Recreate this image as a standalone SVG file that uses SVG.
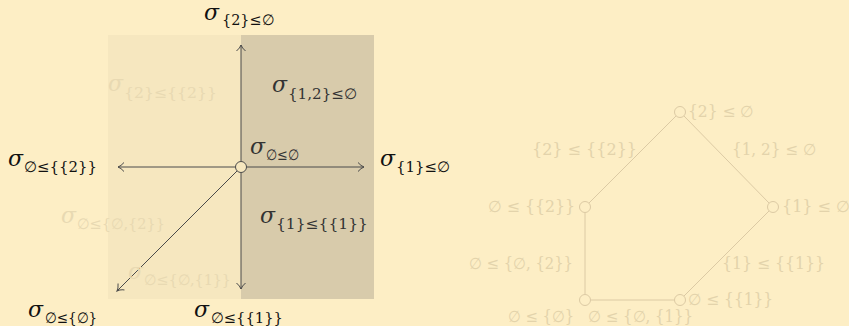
<svg xmlns="http://www.w3.org/2000/svg" width="849" height="326" viewBox="0 0 849 326">
<style>
.sig{font-family:"DejaVu Serif",serif;font-style:italic;font-size:22px}
.sub{font-family:"DejaVu Serif",serif;font-style:normal;font-size:15px}
.dk{fill:#111}
.md{fill:#333}
.ft{fill:#e8d9b2}
.rl{font-family:"DejaVu Serif",serif;font-size:16px;fill:#e3d3ab}
.ax{stroke:#4a4a4a;stroke-width:1;fill:none}
.rd{stroke:#dccaa4;stroke-width:1;fill:none}
.rn{stroke:#dccaa4;stroke-width:1;fill:#fdeec5}
</style>
<defs>
<marker id="arr" markerWidth="12" markerHeight="12" refX="10" refY="6" orient="auto" markerUnits="userSpaceOnUse">
<path d="M4 1.5 Q7 5 10 6 Q7 7 4 10.5" fill="none" stroke="#4a4a4a" stroke-width="1"/>
</marker>
</defs>
<rect x="0" y="0" width="849" height="326" fill="#fdeec5"/>
<rect x="108" y="35" width="133" height="264" fill="#f6e7bf"/>
<rect x="241" y="35" width="133" height="264" fill="#d8cbab"/>

<g id="connectors-left">
<line class="ax" x1="241" y1="161.5" x2="241" y2="45" marker-end="url(#arr)"/>
<line class="ax" x1="246.5" y1="167" x2="364" y2="167" marker-end="url(#arr)"/>
<line class="ax" x1="235.5" y1="167" x2="118" y2="167" marker-end="url(#arr)"/>
<line class="ax" x1="241" y1="172.5" x2="241" y2="289" marker-end="url(#arr)"/>
<line class="ax" x1="237" y1="171" x2="117" y2="291" marker-end="url(#arr)"/>
</g>
<g id="origin"><circle cx="241" cy="167" r="5.5" fill="#f6e7bf" stroke="#4a4a4a" stroke-width="1"/></g>

<g id="l-top"><text class="dk"><tspan class="sig" x="204" y="20">σ</tspan><tspan class="sub" x="222" y="25" textLength="52" lengthAdjust="spacingAndGlyphs">{2}≤∅</tspan></text></g>
<g id="l-q2"><text class="ft"><tspan class="sig" x="108" y="91">σ</tspan><tspan class="sub" x="124" y="98" textLength="93" lengthAdjust="spacingAndGlyphs">{2}≤{{2}}</tspan></text></g>
<g id="l-q1"><text class="md"><tspan class="sig" x="272" y="92">σ</tspan><tspan class="sub" x="288" y="99" textLength="69" lengthAdjust="spacingAndGlyphs">{1,2}≤∅</tspan></text></g>
<g id="l-origin"><text class="md"><tspan class="sig" x="250" y="154">σ</tspan><tspan class="sub" x="266" y="160" textLength="33" lengthAdjust="spacingAndGlyphs">∅≤∅</tspan></text></g>
<g id="l-left"><text class="dk"><tspan class="sig" x="8" y="166">σ</tspan><tspan class="sub" x="24" y="172" textLength="73" lengthAdjust="spacingAndGlyphs">∅≤{{2}}</tspan></text></g>
<g id="l-right"><text class="dk"><tspan class="sig" x="380" y="166">σ</tspan><tspan class="sub" x="396" y="172" textLength="54" lengthAdjust="spacingAndGlyphs">{1}≤∅</tspan></text></g>
<g id="l-q3a"><text class="ft"><tspan class="sig" x="61" y="223">σ</tspan><tspan class="sub" x="77" y="229" textLength="88" lengthAdjust="spacingAndGlyphs">∅≤{∅,{2}}</tspan></text></g>
<g id="l-q4"><text class="md"><tspan class="sig" x="260" y="223">σ</tspan><tspan class="sub" x="276" y="229" textLength="92" lengthAdjust="spacingAndGlyphs">{1}≤{{1}}</tspan></text></g>
<g id="l-q3b"><text class="ft"><tspan class="sig" x="128" y="279">σ</tspan><tspan class="sub" x="144" y="285" textLength="87" lengthAdjust="spacingAndGlyphs">∅≤{∅,{1}}</tspan></text></g>
<g id="l-diag"><text class="dk"><tspan class="sig" x="28" y="317">σ</tspan><tspan class="sub" x="45" y="323" textLength="52" lengthAdjust="spacingAndGlyphs">∅≤{∅}</tspan></text></g>
<g id="l-bottom"><text class="dk"><tspan class="sig" x="194" y="317">σ</tspan><tspan class="sub" x="211" y="323" textLength="72" lengthAdjust="spacingAndGlyphs">∅≤{{1}}</tspan></text></g>

<g id="connectors-right">
<line class="rd" x1="676" y1="116" x2="589" y2="203"/>
<line class="rd" x1="684" y1="116" x2="769" y2="203"/>
<line class="rd" x1="585" y1="212.5" x2="585" y2="294.5"/>
<line class="rd" x1="590.5" y1="300" x2="674.5" y2="300"/>
<line class="rd" x1="684" y1="296" x2="769" y2="211"/>
</g>
<g id="r-top"><circle class="rn" cx="680" cy="112" r="5.5"/><text class="rl" x="688" y="117" textLength="66" lengthAdjust="spacingAndGlyphs">{2} ≤ ∅</text></g>
<g id="r-left"><circle class="rn" cx="585" cy="207" r="5.5"/><text class="rl" x="488" y="212" textLength="87" lengthAdjust="spacingAndGlyphs">∅ ≤ {{2}}</text></g>
<g id="r-right"><circle class="rn" cx="773" cy="207" r="5.5"/><text class="rl" x="782" y="212" textLength="68" lengthAdjust="spacingAndGlyphs">{1} ≤ ∅</text></g>
<g id="r-bl"><circle class="rn" cx="585" cy="300" r="5.5"/><text class="rl" x="508" y="322" textLength="66" lengthAdjust="spacingAndGlyphs">∅ ≤ {∅}</text></g>
<g id="r-br"><circle class="rn" cx="680" cy="300" r="5.5"/><text class="rl" x="688" y="305" textLength="85" lengthAdjust="spacingAndGlyphs">∅ ≤ {{1}}</text></g>
<g id="r-e1"><text class="rl" x="532" y="155" textLength="105" lengthAdjust="spacingAndGlyphs">{2} ≤ {{2}}</text></g>
<g id="r-e2"><text class="rl" x="732" y="155" textLength="84" lengthAdjust="spacingAndGlyphs">{1, 2} ≤ ∅</text></g>
<g id="r-e3"><text class="rl" x="469" y="269" textLength="104" lengthAdjust="spacingAndGlyphs">∅ ≤ {∅, {2}}</text></g>
<g id="r-e4"><text class="rl" x="722" y="269" textLength="103" lengthAdjust="spacingAndGlyphs">{1} ≤ {{1}}</text></g>
<g id="r-e5"><text class="rl" x="588" y="322" textLength="105" lengthAdjust="spacingAndGlyphs">∅ ≤ {∅, {1}}</text></g>
</svg>
